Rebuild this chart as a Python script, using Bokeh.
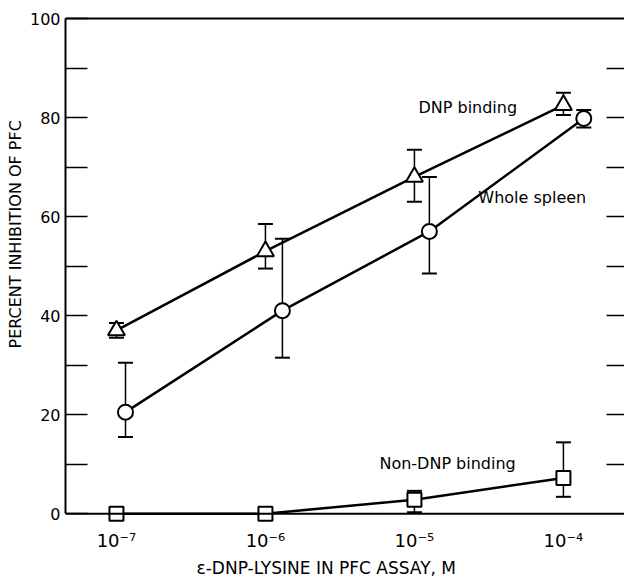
from bokeh.plotting import figure
from bokeh.models import (Range1d, FixedTicker, LinearAxis, ColumnDataSource,
                          Whisker, TeeHead, Label, Span, Title)
from bokeh.embed import file_html
from bokeh.resources import INLINE

# ---- data ----
x_ticks = [1e-7, 1e-6, 1e-5, 1e-4]
x_tick_labels = ["10⁻⁷", "10⁻⁶", "10⁻⁵", "10⁻⁴"]
y_ticks = [0, 10, 20, 30, 40, 50, 60, 70, 80, 90, 100]
y_tick_labels = ["0", "", "20", "", "40", "", "60", "", "80", "", "100"]

dnp_x = [1.0e-7, 1.0e-6, 1.0e-5, 1.0e-4]
dnp_y = [37.0, 53.0, 68.0, 82.5]
dnp_lo = [35.5, 49.5, 63.0, 80.5]
dnp_hi = [38.5, 58.5, 73.5, 85.0]

spleen_x = [1.15e-7, 1.3e-6, 1.26e-5, 1.37e-4]
spleen_y = [20.5, 41.0, 57.0, 79.8]
spleen_lo = [15.5, 31.5, 48.5, 78.0]
spleen_hi = [30.5, 55.5, 68.0, 81.5]

non_x = [1.0e-7, 1.0e-6, 1.0e-5, 1.0e-4]
non_y = [0.0, 0.0, 2.8, 7.2]
non_err_x = [1.0e-5, 1.0e-4]
non_lo = [0.3, 3.4]
non_hi = [4.6, 14.4]

y_title = "PERCENT INHIBITION OF PFC"
x_title = "ε-DNP-LYSINE IN PFC ASSAY, M"

FONT = "DejaVu Sans"

p = figure(x_axis_type="log",
           x_range=Range1d(10 ** -7.342, 10 ** -3.590),
           y_range=Range1d(-3, 100),
           frame_width=559, frame_height=510,
           min_border_left=65, min_border_right=0,
           min_border_top=18, min_border_bottom=50,
           output_backend="svg", toolbar_location=None,
           background_fill_color="white", border_fill_color="white",
           outline_line_color=None)
p.grid.visible = False

# left axis
ya = p.yaxis[0]
ya.ticker = FixedTicker(ticks=y_ticks)
ya.major_label_overrides = {t: l for t, l in zip(y_ticks, y_tick_labels)}
ya.major_tick_in = 22
ya.major_tick_out = 0
ya.major_tick_line_width = 1.5
ya.minor_tick_line_color = None
ya.axis_line_width = 2
ya.bounds = (0, 100)
ya.major_label_text_font = FONT
ya.major_label_text_font_size = "16px"
ya.major_label_text_color = "black"
ya.major_label_standoff = 5

# bottom axis (labels only)
xa = p.xaxis[0]
xa.ticker = FixedTicker(ticks=x_ticks)
xa.major_label_overrides = {t: l for t, l in zip(x_ticks, x_tick_labels)}
xa.major_tick_in = 0
xa.major_tick_out = 0
xa.minor_tick_line_color = None
xa.axis_line_color = None
xa.major_label_text_font = FONT
xa.major_label_text_font_size = "18px"
xa.major_label_text_color = "black"
xa.major_label_standoff = 1

# axis titles (offset from the frame like in the original)
p.add_layout(Title(text=y_title, align="left", offset=180, text_font=FONT,
                   text_font_size="16px", text_font_style="normal",
                   text_color="black", standoff=4), "left")
p.add_layout(Title(text=x_title, align="left", offset=131, text_font=FONT,
                   text_font_size="17px", text_font_style="normal",
                   text_color="black", standoff=4), "below")

# zero line and top line
p.add_layout(Span(location=0, dimension="width", line_color="black", line_width=2))
top = LinearAxis(ticker=FixedTicker(ticks=[]), major_tick_in=0, major_tick_out=0,
                 minor_tick_line_color=None, axis_line_width=2,
                 major_label_text_font_size="0px", major_label_standoff=0)
p.add_layout(top, "above")

# right axis ticks only
ra = LinearAxis(ticker=FixedTicker(ticks=y_ticks[1:-1]), major_tick_in=18, major_tick_out=0,
                minor_tick_line_color=None, axis_line_color=None,
                major_tick_line_width=1.5,
                major_label_overrides={t: "" for t in y_ticks[1:-1]},
                major_label_text_font_size="0px", major_label_standoff=0)
p.add_layout(ra, "right")

# lines
for xs, ys in ((dnp_x, dnp_y), (spleen_x, spleen_y), (non_x, non_y)):
    p.line(xs, ys, line_color="black", line_width=2.5)

# error bars
for xs, lo, hi in ((dnp_x, dnp_lo, dnp_hi), (spleen_x, spleen_lo, spleen_hi),
                   (non_err_x, non_lo, non_hi)):
    src = ColumnDataSource(dict(x=xs, lo=lo, hi=hi))
    w = Whisker(source=src, base="x", lower="lo", upper="hi", dimension="height",
                line_color="black", line_width=1.5, level="underlay",
                upper_head=TeeHead(size=15, line_width=2, line_color="black"),
                lower_head=TeeHead(size=15, line_width=2, line_color="black"))
    p.add_layout(w)

# markers
p.scatter(dnp_x, dnp_y, marker="triangle", size=17, fill_color="white",
          line_color="black", line_width=2)
p.scatter(spleen_x, spleen_y, marker="circle", size=15, fill_color="white",
          line_color="black", line_width=2)
p.scatter(non_x, non_y, marker="square", size=14, fill_color="white",
          line_color="black", line_width=2)

# annotations
def lab(x, y, text):
    p.add_layout(Label(x=x, y=y, text=text, text_font=FONT, text_font_size="16px",
                       text_baseline="middle", text_align="left", text_color="black"))

lab(10 ** -4.973, 82.0, "DNP binding")
lab(10 ** -4.571, 63.8, "Whole spleen")
lab(10 ** -5.235, 10.1, "Non-DNP binding")

open("out.html", "w").write(file_html(p, INLINE))
